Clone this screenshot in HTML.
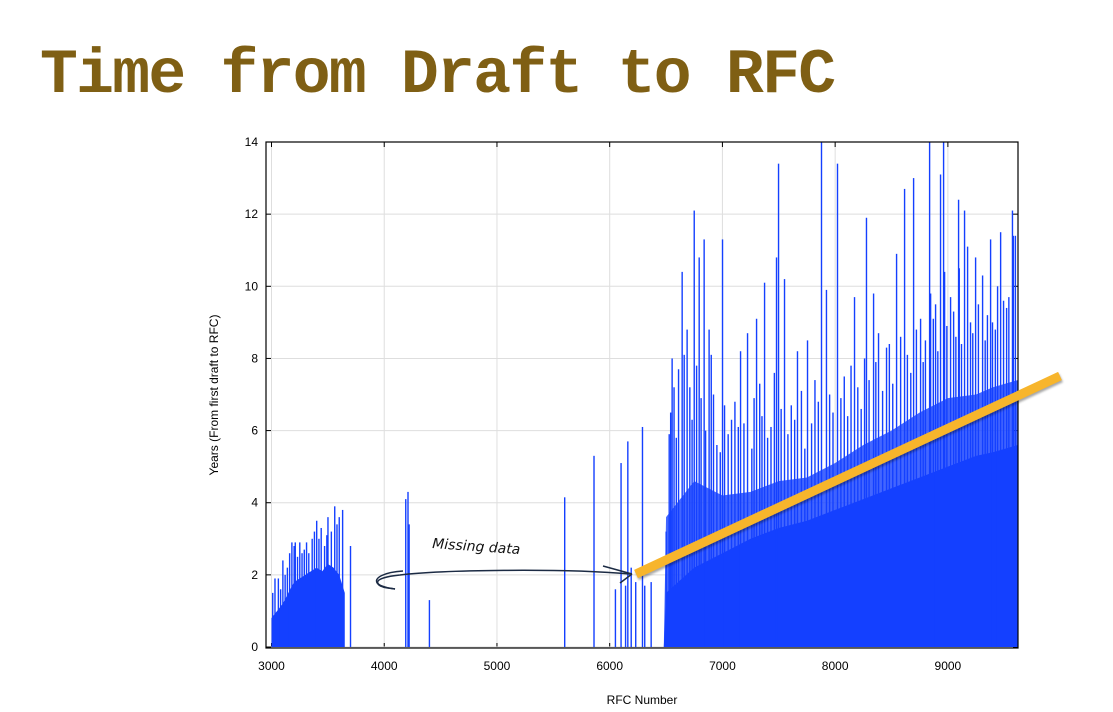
<!DOCTYPE html>
<html><head><meta charset="utf-8">
<style>
html,body{margin:0;padding:0;background:#fff;}
body{width:1113px;height:712px;position:relative;overflow:hidden;font-family:"Liberation Sans",sans-serif;}
#title{position:absolute;left:40px;top:40px;font-family:"Liberation Mono",monospace;font-weight:bold;font-size:63px;letter-spacing:-1.7px;color:#7f5f14;white-space:nowrap;}
svg{position:absolute;left:0;top:0;}
</style></head>
<body>
<div id="title">Time from Draft to RFC</div>
<svg id="chart" width="1113" height="712"></svg>
<script>
// ---- data ----
const xTicks = [3000,4000,5000,6000,7000,8000,9000];
const yTicks = [0,2,4,6,8,10,12,14];
const leftFloorRfc = [3000,3050,3100,3150,3200,3250,3300,3350,3400,3450,3500,3550,3600,3650];
const leftFloorYrs = [0.8,1.0,1.2,1.5,1.8,1.9,2.0,2.1,2.2,2.1,2.3,2.2,2.0,1.5];
const floorRfc = [6480,6500,6750,7000,7250,7500,7750,8000,8250,8500,8750,9000,9250,9400,9620];
const floorYrs = [0,1.5,2.2,2.6,3.0,3.3,3.5,3.8,4.1,4.4,4.7,5.0,5.3,5.4,5.6];
const midYrs   = [0,3.6,4.6,4.2,4.3,4.6,4.7,5.1,5.6,6.0,6.5,6.9,7.0,7.2,7.4];
const spikeRfc = [3010,3030,3060,3080,3100,3120,3140,3160,3180,3200,3210,3230,3250,3270,3290,3310,3330,3360,3380,3400,3420,3440,3470,3490,3500,3530,3560,3580,3600,3630,
 3700,4190,4210,4220,4400,5600,5860,6050,6100,6140,6160,6190,6230,6290,6310,6367,
 6500,6527,6553,6642,6686,6749,6793,6837,6881,6900,7000,7018,7160,7222,7302,7373,7479,7497,7550,7665,7754,7878,7922,8020,
 8171,8277,8340,8384,8455,8544,8615,8695,8757,8837,8846,8890,8934,8961,8970,9023,9094,9100,9147,9174,9245,9307,9378,9395,9440,9467,9493,9572,9580,9598,
 6540,6570,6590,6610,6660,6710,6730,6770,6810,6850,6920,6950,6980,7050,7080,7110,7140,7190,7260,7280,7330,7350,7400,7430,7460,7520,7580,7610,7640,7700,7730,7790,7820,7850,7950,7980,8050,8080,8110,8140,8200,8230,8260,8300,8360,8420,8480,8510,8580,8640,8670,8720,8780,8800,8870,8910,8990,9050,9070,9120,9200,9220,9270,9330,9350,9420,9520,9540];
const spikeYrs = [1.5,1.9,1.9,1.6,2.4,2.0,2.2,2.6,2.9,2.8,2.9,2.5,2.9,2.6,2.7,2.9,2.6,3.0,3.2,3.5,3.0,3.3,2.8,3.1,3.6,3.2,3.9,3.4,3.6,3.8,
 2.8,4.1,4.3,3.4,1.3,4.15,5.3,1.6,5.1,1.7,5.7,2.2,1.8,6.1,1.7,1.8,
 3.2,5.9,8.0,10.4,8.8,12.1,10.8,11.3,8.8,8.1,11.3,6.7,8.2,8.7,9.1,10.1,10.8,13.4,10.2,8.2,8.5,14,9.9,13.4,
 9.7,11.9,9.8,8.7,8.3,10.9,12.7,13.0,9.1,14,9.8,9.5,13.1,14,10.4,9.7,12.4,10.5,12.1,11.1,10.8,10.3,11.3,9.0,10.0,11.5,9.6,12.1,11.4,11.4,
 6.5,7.2,5.8,7.7,8.1,7.2,6.3,7.8,6.9,6.0,7.0,5.6,5.4,5.9,6.3,6.8,6.1,6.2,5.5,6.9,7.3,6.4,5.8,6.1,7.6,6.6,5.9,6.7,6.3,7.1,5.5,6.2,7.4,6.8,7.0,6.5,6.9,7.5,6.4,7.8,7.2,6.6,8.0,7.4,7.9,7.1,8.4,7.3,8.6,8.1,7.6,8.8,7.9,8.5,9.1,8.2,8.9,9.3,8.6,8.4,9.0,8.7,9.5,8.5,9.2,8.8,9.4,9.7];

// ---- axes ----
const X0=266, X1=1018, Y0=142, Y1=648;
const xs = v => 271.5 + (v-3000)*0.11273;
const ys = v => 647 - v*36.07;
const NS="http://www.w3.org/2000/svg";
const svg=document.getElementById('chart');
function mk(tag,attrs,parent){const e=document.createElementNS(NS,tag);for(const k in attrs)e.setAttribute(k,attrs[k]);(parent||svg).appendChild(e);return e;}

xTicks.forEach(t=>{
  const g=mk('line',{x1:xs(t),x2:xs(t),y1:Y0,y2:Y1,stroke:'#dedede','stroke-width':1});
  
  
  const lb=mk('text',{x:xs(t),y:670,'text-anchor':'middle','font-size':12,fill:'#000'});
  lb.textContent=t;
  
  
  mk('line',{x1:xs(t),x2:xs(t),y1:Y1,y2:Y1-5,stroke:'#000'});
  mk('line',{x1:xs(t),x2:xs(t),y1:Y0,y2:Y0+5,stroke:'#000'});
});
yTicks.forEach(t=>{
  const g=mk('line',{x1:X0,x2:X1,y1:ys(t),y2:ys(t),stroke:'#dedede','stroke-width':1});
  
  
  const lb=mk('text',{x:258,y:ys(t)+4,'text-anchor':'end','font-size':12,fill:'#000'});
  lb.textContent=t;
  
  
  mk('line',{x1:X0,x2:X0+5,y1:ys(t),y2:ys(t),stroke:'#000'});
  mk('line',{x1:X1,x2:X1-5,y1:ys(t),y2:ys(t),stroke:'#000'});
});

const BLUE='#1440ff';
function area(rfc,yrs,op,name){
  let d='M'+xs(rfc[0])+','+ys(0);
  rfc.forEach((r,i)=>{d+=' L'+xs(r)+','+ys(yrs[i]);});
  d+=' L'+xs(rfc[rfc.length-1])+','+ys(0)+' Z';
  const p=mk('path',{d:d,fill:BLUE,'fill-opacity':op});
  
  
}
area(leftFloorRfc,leftFloorYrs,1,'left-cluster-bars');
area(floorRfc,midYrs,0.8,'dense-bars-upper');
area(floorRfc,floorYrs,1,'dense-bars-base');
spikeRfc.forEach((r,i)=>{
  const b=mk('rect',{x:xs(r)-0.6,y:ys(spikeYrs[i]),width:1.4,height:ys(0)-ys(spikeYrs[i]),fill:BLUE});
  
  
});

const fr=mk('rect',{x:X0,y:Y0,width:X1-X0,height:Y1-Y0,fill:'none',stroke:'#000','stroke-width':1.2});



const xt=mk('text',{x:642,y:704,'text-anchor':'middle','font-size':12});
xt.textContent='RFC Number';


const yt=mk('text',{x:0,y:0,'text-anchor':'middle','font-size':12,transform:'translate(218,395) rotate(-90)'});
yt.textContent='Years (From first draft to RFC)';



const tr=mk('line',{x1:636,y1:574,x2:1060,y2:376,stroke:'#f7b52c','stroke-width':9,'stroke-linecap':'butt',style:'filter:drop-shadow(1px 2px 1px rgba(0,0,0,0.35))'});



const ar=mk('path',{d:'M630,574 C560,568 440,570 400,575 C370,578 372,586 395,589 M632,574 L603,566 M632,574 L620,583',fill:'none',stroke:'#1c2b44','stroke-width':1.5});


const ar2=mk('path',{d:'M403,571 C385,572 372,578 378,584 C381,588 390,588 395,589',fill:'none',stroke:'#1c2b44','stroke-width':1.5});


const an=mk('text',{x:432,y:548,'font-size':14,'font-family':'"DejaVu Sans", sans-serif','font-style':'italic',fill:'#111',transform:'rotate(4 432 548)'});
an.textContent='Missing data';


</script>
</body></html>
